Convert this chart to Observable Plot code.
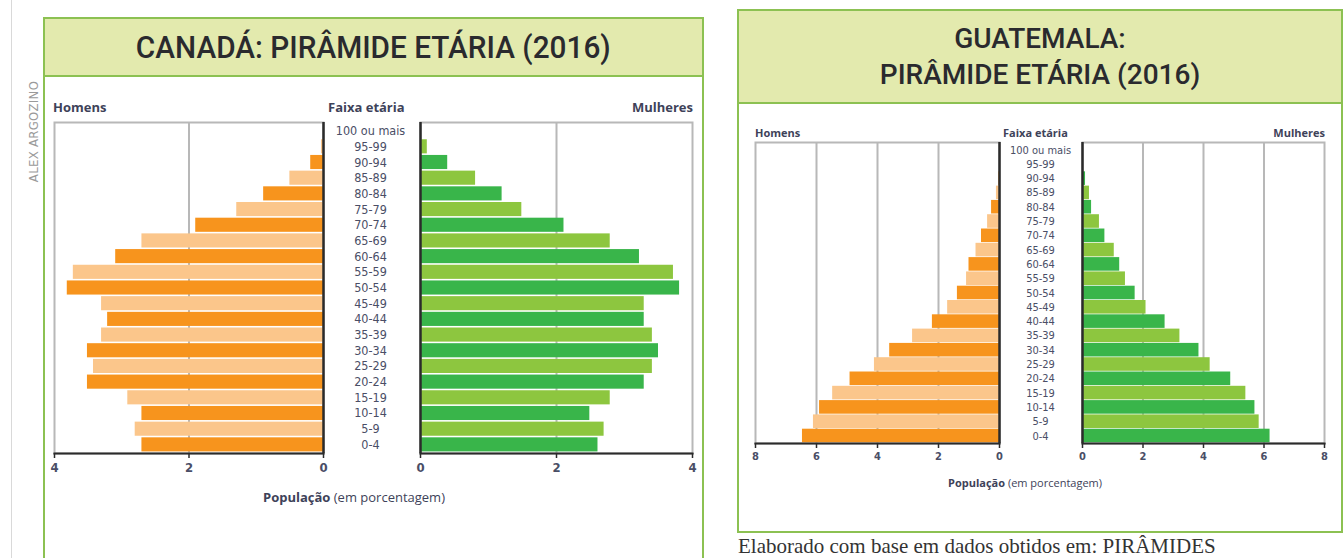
<!DOCTYPE html>
<html><head><meta charset="utf-8">
<script src="https://cdn.jsdelivr.net/npm/d3@7"></script>
<script src="https://cdn.jsdelivr.net/npm/@observablehq/plot@0.6"></script>
<style>
body{margin:0;width:1344px;height:558px;overflow:hidden;background:#fff;position:relative;font-family:"Open Sans",sans-serif;}
.abs{position:absolute;}
.box{position:absolute;border:2px solid #8cc152;box-sizing:border-box;}
.head{position:absolute;background:#e3eaae;border:2px solid #8cc152;box-sizing:border-box;display:flex;flex-direction:column;align-items:center;justify-content:center;color:#2a2a2e;font-family:Roboto,"DejaVu Sans Condensed",sans-serif;font-weight:500;}
.head div{white-space:nowrap;}
.lab{position:absolute;font-weight:bold;color:#3e4259;white-space:nowrap;}
.cap{position:absolute;color:#3e4259;white-space:nowrap;}
</style></head><body>
<script>
// Age groups, bottom to top
const ages = ["0-4","5-9","10-14","15-19","20-24","25-29","30-34","35-39","40-44","45-49","50-54","55-59","60-64","65-69","70-74","75-79","80-84","85-89","90-94","95-99","100 ou mais"];
// Canada 2016, % of population
const canadaMen   = [2.70,2.80,2.70,2.91,3.51,3.42,3.51,3.30,3.21,3.30,3.81,3.72,3.09,2.70,1.90,1.29,0.89,0.50,0.19,0.03,0.00];
const canadaWomen = [2.61,2.70,2.49,2.79,3.29,3.41,3.50,3.41,3.29,3.29,3.81,3.72,3.22,2.79,2.11,1.49,1.20,0.81,0.40,0.10,0.01];
// Guatemala 2016, % of population
const guatemalaMen   = [6.46,6.10,5.90,5.47,4.90,4.10,3.60,2.85,2.20,1.70,1.38,1.08,1.00,0.77,0.59,0.39,0.26,0.10,0.02,0.00,0.00];
const guatemalaWomen = [6.20,5.84,5.70,5.40,4.90,4.22,3.85,3.22,2.73,2.10,1.74,1.42,1.23,1.05,0.74,0.56,0.30,0.23,0.10,0.01,0.00];
const canadaTicks = [0,2,4];
const guatemalaTicks = [0,2,4,6,8];

const orangeDark = "#f7941d", orangeLight = "#fbc68b";
const greenDark = "#39b54a", greenLight = "#8dc63f";

function pyramid(o) {
  const data = ages.map((a, i) => ({age: a, v: o.values[i], shade: i % 2}));
  const max = o.ticks[o.ticks.length - 1];
  const marks = [
    Plot.ruleX(o.ticks.slice(1, -1), {stroke: "#b8b8b8", strokeWidth: 2}),
    Plot.frame({stroke: "#b8b8b8", strokeWidth: 2}),
    Plot.barX(data, {x: "v", y: "age", fill: d => d.shade ? o.light : o.dark}),
    Plot.ruleX([0], {stroke: "#2b2b2b", strokeWidth: 2.5}),
    Plot.frame({anchor: "bottom", stroke: "#2b2b2b", strokeWidth: 2}),
    Plot.axisX({ticks: o.ticks, tickSize: 5, tickPadding: 4, stroke: "#2b2b2b", strokeWidth: 1.5, fontWeight: "bold", fontSize: o.tickFont, label: null, tickFormat: d => d})
  ];
  if (o.showAges) marks.push(Plot.axisY({anchor: "left", tickSize: 0, tickPadding: 0, textAnchor: "middle", dx: o.ageDx, fontSize: o.ageFont, label: null}));
  const svg = Plot.plot({
    width: o.width, height: o.height,
    marginLeft: o.mL, marginRight: o.mR, marginTop: o.mT, marginBottom: o.mB,
    x: {domain: o.side === "left" ? [max, 0] : [0, max], axis: null},
    y: {domain: ages.slice().reverse(), padding: o.padding, round: false, axis: null},
    style: {color: "#4a4e66", fontFamily: "'DejaVu Sans Condensed',sans-serif", background: "transparent", overflow: "visible"},
    marks
  });
  svg.style.position = "absolute";
  svg.style.left = o.left + "px";
  svg.style.top = o.top + "px";
  document.body.appendChild(svg);
}

function addDiv(cls, html, css) {
  const d = document.createElement("div");
  d.className = cls; d.innerHTML = html;
  Object.assign(d.style, css);
  document.body.appendChild(d);
}

// page decorations
addDiv("abs", "", {left: "11px", top: "0px", width: "1px", height: "558px", background: "#d9d9d9"});
addDiv("abs", "ALEX ARGOZINO", {left: "-32px", top: "124px", fontSize: "13px", color: "#9a9a9a", transform: "rotate(-90deg)", width: "130px", textAlign: "center", fontFamily: "'DejaVu Sans Condensed',sans-serif", letterSpacing: "0.3px"});

// Canada panel
addDiv("box", "", {left: "43px", top: "17px", width: "661px", height: "560px"});
addDiv("head", "<div style='transform:scaleX(0.93)'>CANADÁ: PIRÂMIDE ETÁRIA (2016)</div>", {left: "43px", top: "17px", width: "661px", height: "60px", fontSize: "32px"});
addDiv("lab", "Homens", {left: "53px", top: "98px", fontSize: "13px"});
addDiv("lab", "Faixa etária", {left: "328px", top: "98px", fontSize: "13px"});
addDiv("lab", "Mulheres", {left: "626px", top: "98px", fontSize: "13px", width: "67px", textAlign: "right"});
addDiv("cap", "<b>População</b> (em porcentagem)", {left: "263px", top: "488px", fontSize: "13px"});

pyramid({values: canadaMen, side: "left", ticks: canadaTicks, left: 30, top: 100, width: 295, height: 383, mL: 24, mR: 2, mT: 22, mB: 30, dark: orangeDark, light: orangeLight, padding: 0.1, tickFont: 13});
pyramid({values: canadaWomen, side: "right", ticks: canadaTicks, left: 325, top: 100, width: 377, height: 383, mL: 95, mR: 10, mT: 22, mB: 30, dark: greenDark, light: greenLight, padding: 0.1, tickFont: 13, showAges: true, ageDx: -50, ageFont: 12.5});

// Guatemala panel
addDiv("box", "", {left: "737px", top: "9px", width: "606px", height: "524px"});
addDiv("head", "<div>GUATEMALA:</div><div>PIRÂMIDE ETÁRIA (2016)</div>", {left: "737px", top: "9px", width: "606px", height: "95px", fontSize: "28px", lineHeight: "36px"});
addDiv("lab", "Homens", {left: "755px", top: "125px", fontSize: "11px"});
addDiv("lab", "Faixa etária", {left: "1003px", top: "125px", fontSize: "11px"});
addDiv("lab", "Mulheres", {left: "1255px", top: "125px", fontSize: "11px", width: "70px", textAlign: "right"});
addDiv("cap", "<b>População</b> (em porcentagem)", {left: "948px", top: "475px", fontSize: "11px"});

pyramid({values: guatemalaMen, side: "left", ticks: guatemalaTicks, left: 740, top: 120, width: 261, height: 351, mL: 15, mR: 2, mT: 22, mB: 28, dark: orangeDark, light: orangeLight, padding: 0.05, tickFont: 11});
pyramid({values: guatemalaWomen, side: "right", ticks: guatemalaTicks, left: 1000, top: 120, width: 336, height: 351, mL: 82, mR: 12, mT: 22, mB: 28, dark: greenDark, light: greenLight, padding: 0.05, tickFont: 11, showAges: true, ageDx: -42, ageFont: 11});

addDiv("cap", "Elaborado com base em dados obtidos em: PIRÂMIDES", {left: "738px", top: "535px", fontSize: "21px", lineHeight: "22px", fontFamily: "'Liberation Serif',serif", color: "#333"});
</script>
</body></html>
